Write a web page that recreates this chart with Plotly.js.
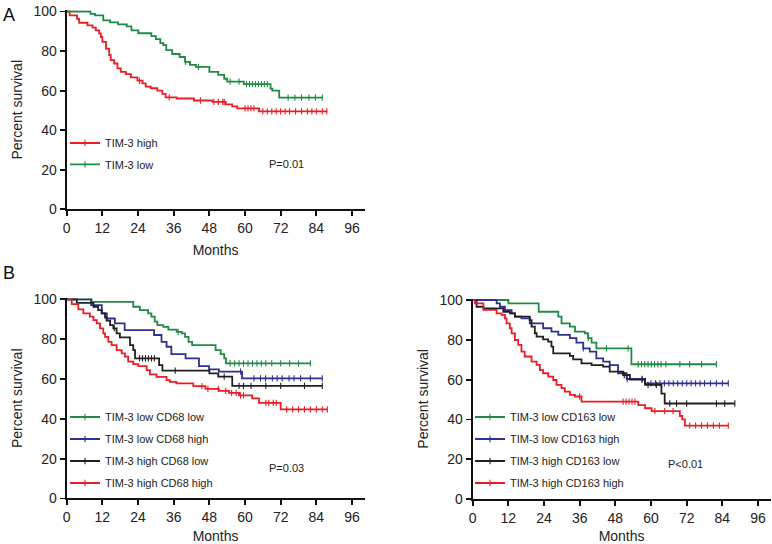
<!DOCTYPE html>
<html>
<head>
<meta charset="utf-8">
<script src="https://cdn.plot.ly/plotly-3.0.1.min.js"></script>
<style>html,body{margin:0;padding:0;background:#fff}#chart{width:772px;height:544px}</style>
</head>
<body>
<div id="chart"></div>
<script>
// ---------- Panel A ----------
var a_high_t = [0, 1, 3.5, 4.2, 7, 8.7, 9.8, 10.9, 11.5, 12, 13.2, 14.3, 14.8, 16, 17.1, 18.2, 19.9, 21.6, 23.8, 25.5, 26.6, 28.3, 30.5, 32.2, 33.3, 37, 42.8, 49, 53.5, 55.7, 57.4, 64.7, 87.7];
var a_high_s = [100, 98, 96.3, 94.3, 93, 91.8, 90.5, 88.9, 87.1, 84.6, 81.2, 78, 75.4, 73.7, 71.2, 69.5, 68.3, 66.7, 65, 63.7, 62, 61.2, 60, 58.3, 56.6, 56, 55, 54.3, 53, 52, 51, 49.5, 49.5];
var a_high_c = [24.5, 34.5, 45, 49.5, 51, 52.5, 53, 60, 61, 62, 63, 66, 67.5, 69, 70.5, 72, 73.5, 75, 77, 79, 81, 82.5, 84, 86, 87.5];
var a_low_t = [0, 8, 9.5, 12.3, 14.6, 17.3, 20.2, 21.8, 24.1, 28.5, 30, 31.5, 32.5, 33.5, 35.5, 38, 39.8, 41.5, 43.5, 48, 51, 53, 54, 59.6, 68.6, 69.2, 71.5, 86];
var a_low_s = [100, 98.8, 98, 95.5, 94.5, 93.5, 92.5, 90.5, 89, 87.5, 86, 84, 83, 80.5, 78.5, 77, 74.5, 73, 72, 69.5, 68, 66, 64.5, 63.3, 61, 60, 56.5, 56.5];
var a_low_c = [40, 44.3, 55, 58, 60.5, 61.5, 62.5, 63.5, 64.5, 65.5, 66.5, 67.5, 74.5, 76.8, 79, 81.5, 83.7, 86];

// ---------- Panel B left (CD68) ----------
var bl_g_t = [0, 8.4, 22.4, 24.6, 27.4, 28.5, 29.6, 30.5, 32.5, 34.2, 37, 38.7, 39.8, 41, 42.2, 50.1, 51.8, 53, 53.6, 82];
var bl_g_s = [100, 98.8, 96.3, 94.6, 93, 91.3, 88.8, 87.1, 86.2, 84.8, 83.7, 82.9, 81.2, 78.7, 77, 74.5, 72.5, 70.4, 67.8, 67.8];
var bl_g_c = [37.5, 55, 56.5, 58, 59.5, 61, 62.5, 64, 65.5, 67, 69, 72, 75, 78, 82];
var bl_b_t = [0, 8.2, 11.8, 13.5, 16.2, 19.5, 29.4, 31.9, 33.6, 35.2, 40, 44.5, 47.9, 51.2, 59, 86];
var bl_b_s = [100, 97.1, 93, 90.4, 87.9, 84.6, 82.1, 78.7, 76.2, 72.5, 70.4, 66.5, 64.8, 63.7, 60.3, 60.3];
var bl_b_c = [58.5, 63, 65.2, 66.9, 69.2, 70.8, 72.5, 74.8, 76.5, 78.7, 82, 86];
var bl_k_t = [0, 3.4, 9, 10.6, 11.8, 12.9, 13.4, 14.6, 15.7, 16.8, 17.9, 21.3, 22.4, 23, 31.1, 32.2, 48, 51, 55.7, 86];
var bl_k_s = [100, 98.3, 96.3, 94.6, 93, 90.9, 89.3, 87.1, 85.4, 82.9, 80.9, 77, 74.5, 70.4, 67, 64.2, 62.8, 61.2, 56.5, 56.5];
var bl_k_c = [16, 24.5, 25.5, 26.5, 27.5, 28.5, 29.5, 36.5, 53, 58, 59.5, 62, 67, 72, 80, 86];
var bl_r_t = [0, 1.7, 3.9, 5.6, 7.8, 9, 10.1, 11.2, 12.3, 12.9, 14, 15.1, 16.8, 18.5, 19.6, 20.7, 22.4, 24.1, 26.9, 28, 30.2, 33.6, 34.7, 36.9, 42.6, 46.7, 51.2, 54.6, 58, 62.4, 64.7, 72, 87.7];
var bl_r_s = [100, 97.6, 95, 93, 91.3, 89.6, 87.9, 85.4, 82.9, 81.2, 78.7, 77, 74.5, 72.9, 71.2, 68.7, 67.5, 66.5, 64.5, 62.3, 61.1, 59.4, 58.6, 57.8, 56.4, 55, 54, 53, 51.8, 50.3, 48, 44.7, 44.7];
var bl_r_c = [45.5, 47.5, 51, 53.5, 55.5, 57, 58.5, 59.5, 67, 68, 69.5, 70.5, 74, 76, 78, 80, 82, 84, 86, 87.7];

// ---------- Panel B right (CD163) ----------
var br_g_t = [0, 12, 22.2, 28.8, 29.9, 32.7, 34.4, 37.7, 38.8, 40, 41.6, 53.4, 82];
var br_g_s = [100, 98.3, 94.1, 91.6, 88.3, 86.6, 84.1, 83.3, 80.8, 78.6, 75.7, 67.7, 67.7];
var br_g_c = [38.9, 45, 52.3, 55.7, 56.8, 57.9, 59, 60.1, 61.2, 62.3, 63.4, 65, 69.7, 73, 77, 82];
var br_b_t = [0, 8.05, 9.17, 10.85, 13.1, 14.2, 16.4, 19.2, 23.7, 26.5, 28.8, 32.7, 34.9, 37.2, 39.4, 41.6, 43.9, 46.1, 48.9, 51.8, 58, 86];
var br_b_s = [100, 98.3, 96.6, 94.9, 93.3, 91.6, 90.8, 88.3, 85.8, 84.1, 82.5, 80.8, 78.6, 75.7, 74.1, 70.7, 69, 67.3, 63.2, 60.3, 58.1, 58.1];
var br_b_c = [37.2, 52, 57, 60, 61.5, 63, 64.5, 66, 67.5, 69, 70.5, 72, 73.5, 75, 76.5, 78, 80, 82, 84, 86];
var br_k_t = [0, 1.3, 3.6, 10.3, 12.5, 14.2, 19.2, 19.8, 20.9, 21.5, 23.7, 25.4, 26.5, 27.1, 32.7, 33.8, 36.6, 40, 43.9, 46.1, 50.6, 52.9, 58, 63.5, 64.6, 88.2];
var br_k_s = [100, 96.6, 95.8, 94.1, 93.3, 91.6, 89.9, 86.6, 83.3, 81.6, 80.2, 79.1, 76.6, 73.2, 71.9, 70.2, 68.2, 67.3, 66.5, 64, 62.3, 60, 57.3, 53, 48, 48];
var br_k_c = [51, 57, 59, 61.8, 66.3, 68.6, 72, 82, 84.8, 88.2];
var br_r_t = [0, 0.77, 3.6, 8.05, 9.7, 10.85, 11.4, 12.5, 13.1, 14.2, 15.3, 16.4, 17.5, 19.8, 21.5, 22.6, 23.7, 25.4, 27.1, 28.2, 29.9, 31, 32.7, 34.4, 36.6, 55.7, 58, 60.2, 69.7, 70.5, 71.4, 86];
var br_r_s = [100, 98.3, 95, 93.3, 92.5, 90.8, 88.3, 85.8, 83.2, 79.9, 77.4, 74.1, 71.6, 69, 67.4, 64.8, 63.2, 61.5, 59.8, 57.3, 55.7, 54, 52.3, 51.5, 48.9, 47.2, 45.6, 44.2, 41.7, 40, 36.9, 36.9];
var br_r_c = [36, 50.6, 51.6, 52.6, 53.6, 54.6, 61.3, 64.6, 67.4, 73, 75, 77, 79, 81, 83, 86];

// labels
var xTicks = [0, 12, 24, 36, 48, 60, 72, 84, 96];
var yTicks = [0, 20, 40, 60, 80, 100];
var namesA = ['TIM-3 high', 'TIM-3 low'];
var namesBL = ['TIM-3 low CD68 low', 'TIM-3 low CD68 high', 'TIM-3 high CD68 low', 'TIM-3 high CD68 high'];
var namesBR = ['TIM-3 low CD163 low', 'TIM-3 low CD163 high', 'TIM-3 high CD163 low', 'TIM-3 high CD163 high'];
var pTexts = ['P=0.01', 'P=0.03', 'P<0.01'];

var RED = '#ec1c24', GREEN = '#1f8a43', BLUE = '#2e3192', BLACK = '#231f20';
var FONT = 'Liberation Sans, Arial, Helvetica, sans-serif';

function stepAt(t, ts, ss) {
  var v = ss[0];
  for (var i = 0; i < ts.length; i++) { if (ts[i] <= t) v = ss[i]; }
  return v;
}

var traces = [];
function addCurve(ts, ss, cs, color, name, xa, ya, leg, grp) {
  traces.push({x: ts, y: ss, type: 'scatter', mode: 'lines', line: {shape: 'hv', color: color, width: 1.8},
    xaxis: xa, yaxis: ya, showlegend: false, hoverinfo: 'skip'});
  traces.push({x: cs, y: cs.map(function (c) { return stepAt(c, ts, ss); }), type: 'scatter', mode: 'markers',
    marker: {symbol: 'line-ns-open', size: 4.5, color: color, line: {color: color, width: 1.1}},
    xaxis: xa, yaxis: ya, showlegend: false, hoverinfo: 'skip', cliponaxis: false});
  traces.push({x: [null], y: [null], type: 'scatter', mode: 'lines+markers', name: name,
    line: {color: color, width: 1.8}, marker: {symbol: 'line-ns-open', size: 4.5, color: color, line: {color: color, width: 1.1}},
    xaxis: xa, yaxis: ya, legend: leg, legendgroup: grp, showlegend: true});
}

addCurve(a_high_t, a_high_s, a_high_c, RED, namesA[0], 'x', 'y', 'legend', 'a1');
addCurve(a_low_t, a_low_s, a_low_c, GREEN, namesA[1], 'x', 'y', 'legend', 'a2');

addCurve(bl_g_t, bl_g_s, bl_g_c, GREEN, namesBL[0], 'x2', 'y2', 'legend2', 'b1');
addCurve(bl_b_t, bl_b_s, bl_b_c, BLUE, namesBL[1], 'x2', 'y2', 'legend2', 'b2');
addCurve(bl_k_t, bl_k_s, bl_k_c, BLACK, namesBL[2], 'x2', 'y2', 'legend2', 'b3');
addCurve(bl_r_t, bl_r_s, bl_r_c, RED, namesBL[3], 'x2', 'y2', 'legend2', 'b4');

addCurve(br_g_t, br_g_s, br_g_c, GREEN, namesBR[0], 'x3', 'y3', 'legend3', 'c1');
addCurve(br_b_t, br_b_s, br_b_c, BLUE, namesBR[1], 'x3', 'y3', 'legend3', 'c2');
addCurve(br_k_t, br_k_s, br_k_c, BLACK, namesBR[2], 'x3', 'y3', 'legend3', 'c3');
addCurve(br_r_t, br_r_s, br_r_c, RED, namesBR[3], 'x3', 'y3', 'legend3', 'c4');

var W = 772, H = 544;
function px(x) { return x / W; }
function py(y) { return 1 - y / H; }

function xax(dom, standoff) {
  return {domain: dom, range: [0, 100.2], tickvals: xTicks, ticktext: xTicks.map(String), ticks: 'outside', ticklen: 5,
    tickwidth: 1.8, tickcolor: '#111', showline: true, linewidth: 2, linecolor: '#111', showgrid: false, zeroline: false,
    tickfont: {family: FONT, size: 14, color: '#222'}, automargin: false,
    title: {text: 'Months', font: {family: FONT, size: 14, color: '#222'}, standoff: standoff}, fixedrange: true};
}
function yax(dom, anchor) {
  return {domain: dom, range: [0, 100.6], tickvals: yTicks, ticktext: yTicks.map(String), ticks: 'outside', ticklen: 5,
    tickwidth: 1.8, tickcolor: '#111', showline: true, linewidth: 2, linecolor: '#111', showgrid: false, zeroline: false,
    tickfont: {family: FONT, size: 14, color: '#222'}, automargin: false, anchor: anchor,
    title: {text: 'Percent survival', font: {family: FONT, size: 14, color: '#222'}, standoff: 8}, fixedrange: true};
}

function legendAt(xpx, ypx) {
  return {x: px(xpx), y: py(ypx), xanchor: 'left', yanchor: 'top', bgcolor: 'rgba(0,0,0,0)', borderwidth: 0,
    font: {family: FONT, size: 11, color: '#222'}, tracegroupgap: 3, itemclick: false, itemdoubleclick: false};
}

var layout = {
  width: W, height: H, margin: {l: 0, r: 0, t: 0, b: 0}, paper_bgcolor: '#fff', plot_bgcolor: 'rgba(0,0,0,0)',
  font: {family: FONT, color: '#222'},
  xaxis: Object.assign(xax([px(66.7), px(364.5)], 10), {anchor: 'y'}),
  yaxis: yax([py(209.3), py(10.3)], 'x'),
  xaxis2: Object.assign(xax([px(66.7), px(364.5)], 7.5), {anchor: 'y2'}),
  yaxis2: yax([py(498.4), py(298.2)], 'x2'),
  xaxis3: Object.assign(xax([px(472.7), px(770.5)], 7.5), {anchor: 'y3'}),
  yaxis3: yax([py(499), py(298.8)], 'x3'),
  legend: Object.assign(legendAt(65, 128.5), {tracegroupgap: 2.3}),
  legend2: legendAt(65, 402.5),
  legend3: legendAt(470, 402.5),
  annotations: [
    {text: 'A', xref: 'paper', yref: 'paper', x: px(0.5), y: py(3), xanchor: 'left', yanchor: 'top', showarrow: false, font: {family: FONT, size: 18, color: '#111'}},
    {text: 'B', xref: 'paper', yref: 'paper', x: px(0.5), y: py(261), xanchor: 'left', yanchor: 'top', showarrow: false, font: {family: FONT, size: 18, color: '#111'}},
    {text: pTexts[0], xref: 'x', yref: 'y', x: 67.5, y: 23, xanchor: 'left', showarrow: false, font: {family: FONT, size: 11, color: '#222'}},
    {text: pTexts[1], xref: 'x2', yref: 'y2', x: 67.5, y: 15.5, xanchor: 'left', showarrow: false, font: {family: FONT, size: 11, color: '#222'}},
    {text: pTexts[2], xref: 'x3', yref: 'y3', x: 65, y: 17.5, xanchor: 'left', showarrow: false, font: {family: FONT, size: 11, color: '#222'}}
  ],
  showlegend: true
};

Plotly.newPlot('chart', traces, layout, {displayModeBar: false, staticPlot: true});
</script>
</body>
</html>
